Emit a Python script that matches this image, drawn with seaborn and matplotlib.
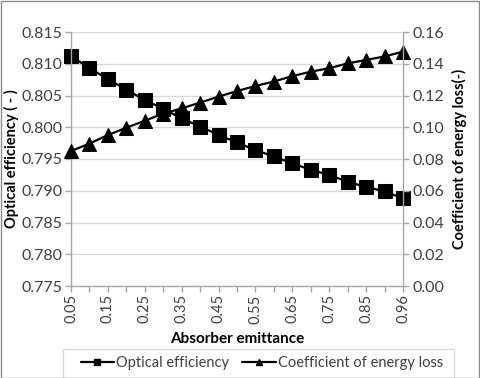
import matplotlib
matplotlib.use("Agg")
import matplotlib.pyplot as plt
import seaborn as sns
import pandas as pd
from matplotlib.patches import Rectangle
from matplotlib.lines import Line2D

emittance = ["0.05", "0.1", "0.15", "0.2", "0.25", "0.3", "0.35", "0.4", "0.45", "0.5",
             "0.55", "0.6", "0.65", "0.7", "0.75", "0.8", "0.85", "0.9", "0.96"]
optical_eff = [0.8112, 0.8093, 0.8076, 0.8059, 0.8043, 0.8029, 0.8014, 0.8001, 0.7988, 0.7976,
               0.7964, 0.7954, 0.7943, 0.7933, 0.7925, 0.7914, 0.7906, 0.7899, 0.7888]
energy_loss = [0.0850, 0.0897, 0.0951, 0.0997, 0.1041, 0.1086, 0.1119, 0.1155, 0.1193, 0.1228,
               0.1260, 0.1288, 0.1322, 0.1350, 0.1372, 0.1402, 0.1424, 0.1446, 0.1476]
xtick_labels = ["0.05", "", "0.15", "", "0.25", "", "0.35", "", "0.45", "", "0.55", "",
                "0.65", "", "0.75", "", "0.85", "", "0.96"]

sns.set_theme(style="white")
plt.rcParams['font.family'] = ['Lato', 'DejaVu Sans']

df = pd.DataFrame({"pos": range(len(emittance)), "eff": optical_eff, "loss": energy_loss})

fig = plt.figure(figsize=(4.8, 3.78), dpi=100)
ax = fig.add_axes([71/480, 1-286/378, (403-71)/480, (286-32)/378])
ax2 = ax.twinx()

grey = "#A6A6A6"
txt = "#404040"
sns.lineplot(data=df, x="pos", y="eff", ax=ax, color="black", marker="s", markersize=9.5,
             linewidth=1.6, markeredgecolor="black", clip_on=False, legend=False)
sns.lineplot(data=df, x="pos", y="loss", ax=ax2, color="black", marker="^", markersize=10,
             linewidth=1.6, markeredgecolor="black", clip_on=False, legend=False)

ax.set_xlim(0, len(emittance) - 1)
ax.set_ylim(0.775, 0.815)
ax.set_yticks([0.775 + 0.005 * i for i in range(9)])
ax.set_yticklabels([f"{0.775 + 0.005 * i:.3f}" for i in range(9)], fontsize=11.5)
ax2.set_ylim(0.0, 0.16)
ax2.set_yticks([0.02 * i for i in range(9)])
ax2.set_yticklabels([f"{0.02 * i:.2f}" for i in range(9)], fontsize=11.5)
ax.set_xticks(range(len(emittance)))
ax.set_xticklabels(xtick_labels, rotation=90, fontsize=10.5)

ax.grid(axis="y", color="#D9D9D9", linewidth=1)
ax.set_axisbelow(True)
ax2.grid(False)

for a in (ax, ax2):
    for s in a.spines.values():
        s.set_visible(False)
ax.spines["left"].set_visible(True)
ax.spines["bottom"].set_visible(True)
ax2.spines["right"].set_visible(True)
for s in (ax.spines["left"], ax.spines["bottom"], ax2.spines["right"]):
    s.set_color(grey)
    s.set_linewidth(1)

ax.tick_params(axis="both", which="both", direction="out", length=4, width=1, color=grey,
               left=True, bottom=True, pad=2, labelcolor=txt)
ax2.tick_params(axis="y", direction="out", length=4, width=1, color=grey, right=True,
                pad=3, labelcolor=txt)

ax.set_xlabel("Absorber emittance", fontsize=11, fontweight="bold", labelpad=6, color="black")
ax.set_ylabel("Optical efficiency ( - )", fontsize=10.5, fontweight="bold", color="black")
ax.yaxis.set_label_coords(-0.158, 0.5)
ax2.set_ylabel("Coefficient of energy loss(-)", fontsize=10.5, fontweight="bold", labelpad=5, color="black")

handles = [Line2D([], [], color="black", marker="s", markersize=5, linewidth=1.6),
           Line2D([], [], color="black", marker="^", markersize=5, linewidth=1.6)]
leg = fig.legend(handles, ["Optical efficiency", "Coefficient of energy loss"],
                 loc="center", bbox_to_anchor=(262/480, 1 - 363/378),
                 ncol=2, fontsize=10.5, frameon=False,
                 handlelength=2.3, handletextpad=0.15, borderaxespad=0, columnspacing=0.9)
for t in leg.get_texts():
    t.set_color(txt)

fig.patches.append(Rectangle((63/480, 1 - 378/378), (454-63)/480, (378-349)/378,
                             transform=fig.transFigure, fill=False, edgecolor="#D9D9D9",
                             linewidth=1))
fig.patches.append(Rectangle((0.5/480, 0.5/378), 1 - 1.5/480, 1 - 1.5/378, transform=fig.transFigure,
                             fill=False, edgecolor="#8C8C8C", linewidth=1))

fig.savefig("out.png", dpi=100)
